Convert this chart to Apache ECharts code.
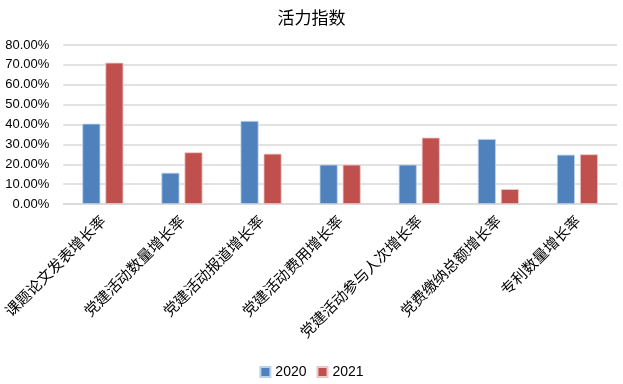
<!DOCTYPE html>
<html><head><meta charset="utf-8">
<script src="https://cdn.jsdelivr.net/npm/echarts@6/dist/echarts.min.js"></script>
<style>html,body{margin:0;padding:0;background:#fff}#c{width:623px;height:384px}</style>
</head><body><div id="c"></div>
<script>
const categories = ['课题论文发表增长率','党建活动数量增长率','党建活动报道增长率','党建活动费用增长率','党建活动参与人次增长率','党费缴纳总额增长率','专利数量增长率'];
const values2020 = [40.4, 15.7, 41.8, 19.8, 19.8, 32.7, 24.8];
const values2021 = [71.1, 26.0, 25.3, 19.8, 33.4, 7.5, 25.0];
const seriesNames = ['2020', '2021'];

const chart = echarts.init(document.getElementById('c'));
chart.setOption({
  animation: false,
  title: { text: '活力指数', left: 'center', top: 4,
    textStyle: { fontFamily: 'Noto Sans CJK SC', fontSize: 17, fontWeight: 'normal', color: '#000' } },
  legend: { data: seriesNames, bottom: 0, left: 'center', itemWidth: 10, itemHeight: 10, itemGap: 10,
    icon: 'rect', textStyle: { fontFamily: 'Liberation Sans', fontSize: 14, color: '#000' } },
  grid: { left: 63, right: 6, top: 45, bottom: 180, containLabel: false },
  xAxis: { type: 'category', data: categories,
    axisLine: { lineStyle: { color: '#D9D9D9', width: 1.5 } }, axisTick: { show: false },
    axisLabel: { rotate: 45, interval: 0, margin: 14, fontFamily: 'Noto Sans CJK SC', fontSize: 15, color: '#000' } },
  yAxis: { type: 'value', min: 0, max: 80, interval: 10,
    axisLabel: { formatter: v => v.toFixed(2) + '%', fontFamily: 'Liberation Sans', fontSize: 13, color: '#000', margin: 14 },
    splitLine: { lineStyle: { color: '#D9D9D9', width: 1.5 } }, axisLine: { show: false }, axisTick: { show: false } },
  series: [
    { name: seriesNames[0], type: 'bar', data: values2020, barWidth: 18, barGap: '28%',
      itemStyle: { color: '#4F81BD', borderColor: '#BCD0EA', borderWidth: 0.8 } },
    { name: seriesNames[1], type: 'bar', data: values2021, barWidth: 18,
      itemStyle: { color: '#C0504D', borderColor: '#F0C8C7', borderWidth: 0.8 } }
  ]
});
</script></body></html>
